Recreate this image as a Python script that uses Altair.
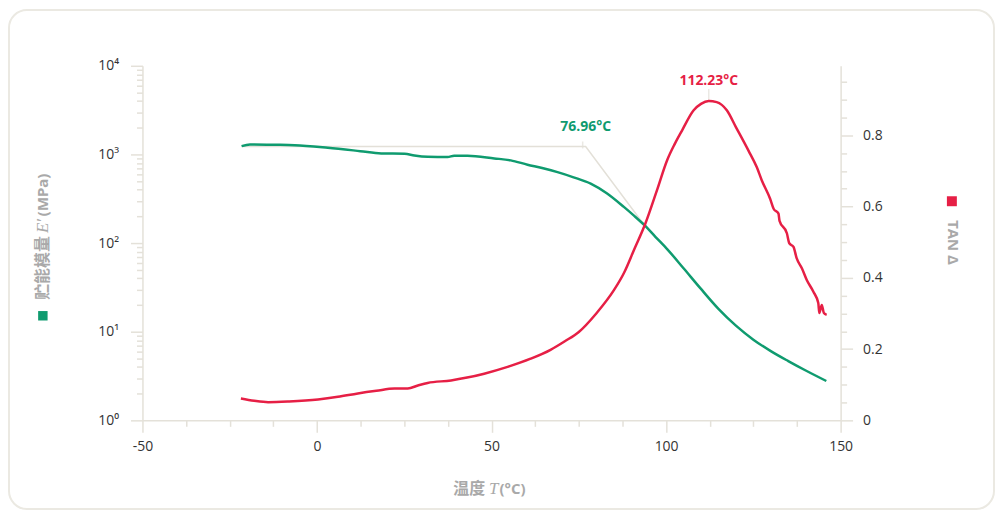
import altair as alt
import pandas as pd

# ---- data ----
# storage modulus E' (MPa) vs temperature (°C)
e_temp = [-21.6, -19.2, -12.0, -6.4, 3.1, 12.4, 18.4, 25.1, 27.9, 31.7, 37.4, 39.3, 43.1,
          50.8, 55.5, 60.3, 64.5, 68.9, 73.5, 78.4, 83.0, 87.9, 90.8, 93.8, 97.0, 100.3,
          105.0, 109.8, 115.0, 120.0, 125.0, 130.0, 135.0, 140.0, 145.9]
e_mod = [1240, 1295, 1285, 1272, 1189, 1089, 1026, 1018, 975, 942, 933, 967, 967,
         902, 857, 766, 702, 631, 552, 468, 365, 256, 204, 159, 117, 85.6,
         52, 31, 18.1, 11.7, 8.13, 6.04, 4.66, 3.65, 2.78]

# tan delta vs temperature (°C)
d_temp = [-21.8, -18, -14, -8, 0.3, 6, 11.7, 17, 22.2, 26.0, 28.9, 31.7, 38.4, 43, 47.9,
          54.6, 61.2, 66.9, 71, 75, 80, 85.1, 88, 90.8, 94.1, 97.4, 100.3, 102.5, 104.6,
          107.9, 110, 112.23, 114.5, 117.4, 120, 123.6, 126, 127.4, 129.8, 130.8, 132.2,
          132.5, 134.6, 135.3, 136.5, 137.4, 138.9, 140.3, 142.2, 143.6, 143.9, 144.6,
          145.2, 146.0]
d_val = [0.0615, 0.055, 0.051, 0.053, 0.0587, 0.066, 0.0755, 0.083, 0.0894, 0.0894, 0.0978,
         0.105, 0.112, 0.12, 0.131, 0.150, 0.173, 0.198, 0.222, 0.248, 0.30, 0.366, 0.415,
         0.478, 0.553, 0.646, 0.73, 0.776, 0.814, 0.87, 0.888, 0.896, 0.893, 0.87, 0.823,
         0.757, 0.71, 0.674, 0.622, 0.594, 0.580, 0.560, 0.525, 0.497, 0.487, 0.455, 0.427,
         0.394, 0.361, 0.329, 0.301, 0.324, 0.301, 0.296]

# onset tangent construction (plateau line and inflection tangent)
tangent_temp = [-21.6, 76.96, 93.8]
tangent_mod = [1230, 1230, 159]

onset_temp = [76.96]
onset_mod = [1230]
onset_label = ["76.96°C"]

peak_temp = [112.23]
peak_val = [0.896]
peak_label = ["112.23°C"]

x_ticks = [-50 + 12.5 * i for i in range(17)]
left_ticks = [m * 10 ** p for p in range(4) for m in range(1, 10)] + [10000]
right_ticks = [round(0.05 * i, 2) for i in range(20)]

GREEN = "#0f9b6f"
RED = "#e61f45"
AXIS_C = "#e4e1d9"
LEADER = "#e3e0d8"
TITLE_C = "#a9a9a9"
LABEL_C = "#333333"
FONT = "Open Sans"
CJK = "Noto Sans CJK SC"

e_df = pd.DataFrame({"T": e_temp, "E": e_mod})
d_df = pd.DataFrame({"T": d_temp, "D": d_val})
tan_df = pd.DataFrame({"T": tangent_temp, "E": tangent_mod})
onset_df = pd.DataFrame({"T": onset_temp, "E": onset_mod, "label": onset_label})
peak_df = pd.DataFrame({"T": peak_temp, "D": peak_val, "label": peak_label})
deco_df = pd.DataFrame({"k": [0]})

common_axis = dict(domainColor=AXIS_C, domainWidth=1.5, tickColor=AXIS_C, tickWidth=1.5,
                   labelFont=FONT, labelFontSize=14, labelColor=LABEL_C, grid=False, title=None)

x_axis = alt.Axis(
    values=x_ticks,
    labelExpr="datum.value % 50 == 0 ? '' + datum.value : ''",
    tickSize={"condition": {"test": "datum.value % 50 == 0", "value": 12}, "value": 6},
    labelPadding=7, labelFlush=False, labelOverlap=False,
    **common_axis)

pow_test = ("datum.value == 1 || datum.value == 10 || datum.value == 100 || "
            "datum.value == 1000 || datum.value == 10000")
left_axis = alt.Axis(
    orient="left", values=left_ticks,
    labelExpr=("datum.value == 1 ? '10⁰' : datum.value == 10 ? '10¹' : datum.value == 100 ? '10²' : "
               "datum.value == 1000 ? '10³' : datum.value == 10000 ? '10⁴' : ''"),
    tickSize={"condition": {"test": pow_test, "value": 12}, "value": 6},
    labelPadding=12, labelFlush=False, labelOverlap=False,
    **common_axis)

fifth_test = "abs(datum.value * 5 - round(datum.value * 5)) < 0.001"
right_axis = alt.Axis(
    orient="right", values=right_ticks,
    labelExpr=f"{fifth_test} ? format(datum.value, '.1~f') : ''",
    tickSize={"condition": {"test": fifth_test, "value": 12}, "value": 6},
    labelPadding=10, labelFlush=False, labelOverlap=False,
    **common_axis)

X = alt.X("T:Q", scale=alt.Scale(domain=[-50, 150], nice=False, zero=False), axis=x_axis)
Y_LEFT = lambda f: alt.Y(f, scale=alt.Scale(type="log", domain=[1, 10000], nice=False), axis=left_axis)
Y_RIGHT = lambda f: alt.Y(f, scale=alt.Scale(domain=[0, 0.995], nice=False, zero=False), axis=right_axis)

# ---- decorations: frame, axis titles, legend squares ----
frame = alt.Chart(deco_df).mark_rect(
    fillOpacity=0, stroke="#ebe9e2", strokeWidth=2, cornerRadius=18
).encode(x=alt.value(-134), x2=alt.value(855), y=alt.value(-56), y2=alt.value(445))

def txt(text, x, y, **kw):
    return alt.Chart(deco_df).mark_text(text=text, color=TITLE_C, **kw).encode(
        x=alt.value(x), y=alt.value(y))

x_title = (
    txt("温度", 344, 425, font=CJK, fontSize=16, fontWeight="bold", align="right", baseline="middle")
    + txt("T", 348, 425, font="Liberation Serif", fontStyle="italic", fontSize=17, align="left", baseline="middle")
    + txt("(°C)", 358.5, 425, font=FONT, fontSize=15, fontWeight="bold", align="left", baseline="middle")
)
left_title = (
    txt("贮能模量", -99.5, 235, font=CJK, fontSize=16, fontWeight="bold", angle=270, align="left", baseline="middle")
    + txt("E′", -99.5, 168, font="Liberation Serif", fontStyle="italic", fontSize=17, angle=270, align="left", baseline="middle")
    + txt("(MPa)", -99.5, 151, font=FONT, fontSize=15, fontWeight="bold", angle=270, align="left", baseline="middle")
)
right_title = txt("TAN Δ", 814, 177.5, font=FONT, fontSize=15, fontWeight="bold", angle=90,
                  align="center", baseline="middle")

green_sq = alt.Chart(deco_df).mark_square(size=90, color=GREEN, opacity=1).encode(
    x=alt.value(-100), y=alt.value(251))
red_sq = alt.Chart(deco_df).mark_square(size=100, color=RED, opacity=1).encode(
    x=alt.value(812.7), y=alt.value(136))

deco = alt.layer(frame, x_title, left_title, right_title, green_sq, red_sq)

# ---- left (log E') layers ----
tangent = alt.Chart(tan_df).mark_line(color=LEADER, strokeWidth=1.5).encode(x=X, y=Y_LEFT("E:Q"))
e_line = alt.Chart(e_df).mark_line(color=GREEN, strokeWidth=2.5, interpolate="monotone").encode(
    x=X, y=Y_LEFT("E:Q"))
onset_tick = alt.Chart(onset_df).mark_tick(orient="vertical", size=7, thickness=1.5, color=LEADER,
                                           yOffset=-1.5, xOffset=-3).encode(x=X, y=Y_LEFT("E:Q"))
onset_text = alt.Chart(onset_df).mark_text(dy=-20, font=FONT, fontSize=14, fontWeight="bold",
                                           color=GREEN).encode(x=X, y=Y_LEFT("E:Q"), text="label:N")
left = alt.layer(tangent, e_line, onset_tick, onset_text)

# ---- right (tan delta) layers ----
d_line = alt.Chart(d_df).mark_line(color=RED, strokeWidth=2.5, interpolate="monotone").encode(
    x=X, y=Y_RIGHT("D:Q"))
peak_tick = alt.Chart(peak_df).mark_tick(orient="vertical", size=12, thickness=1.5, color=LEADER,
                                         yOffset=-6).encode(x=X, y=Y_RIGHT("D:Q"))
peak_text = alt.Chart(peak_df).mark_text(dy=-20, font=FONT, fontSize=14, fontWeight="bold",
                                         color=RED).encode(x=X, y=Y_RIGHT("D:Q"), text="label:N")
right = alt.layer(peak_tick, d_line, peak_text)

chart = alt.layer(deco, left, right).resolve_scale(y="independent").properties(
    width=701, height=356,
    autosize=alt.AutoSizeParams(type="none"),
    padding={"left": 135, "top": 57, "right": 155, "bottom": 91},
    background="white",
).configure_view(stroke=None)

chart.save("out.html", embed_options={"renderer": "svg", "actions": False})
